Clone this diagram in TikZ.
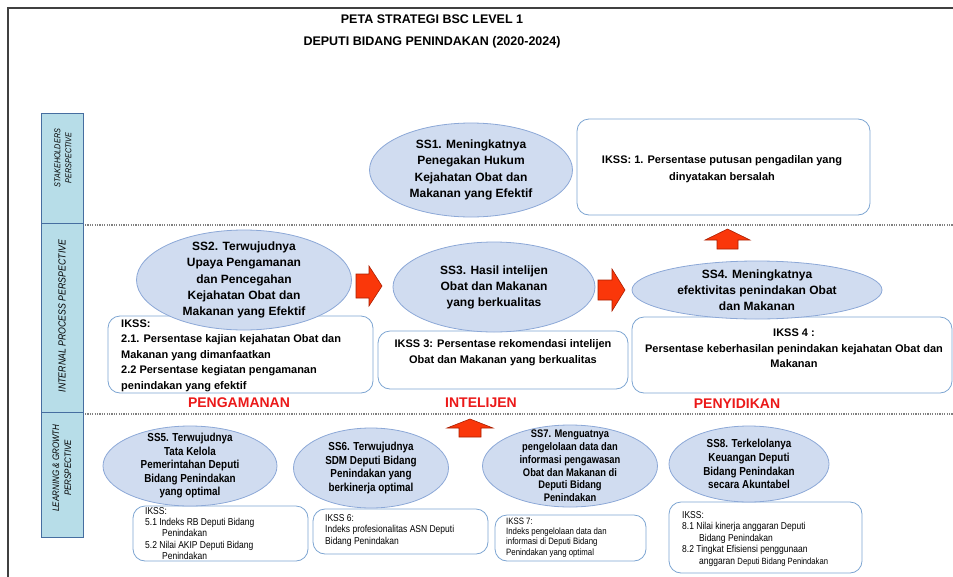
\documentclass[tikz,border=0pt]{standalone}
\usepackage{fontspec}
\setmainfont{Liberation Sans}
\newfontfamily\narrowsans[FakeStretch=0.85]{Liberation Sans}
\usetikzlibrary{shapes.geometric}
\definecolor{goalfill}{RGB}{208,220,240}
\definecolor{goalline}{RGB}{140,168,215}
\definecolor{boxline}{RGB}{125,165,210}
\definecolor{perspfill}{RGB}{183,221,232}
\definecolor{perspline}{RGB}{70,110,160}
\definecolor{arrfill}{RGB}{250,55,10}
\definecolor{arrline}{RGB}{170,30,0}
\definecolor{redtext}{RGB}{235,25,25}
\tikzset{
  goal/.style={ellipse, draw=goalline, fill=goalfill, line width=0.8pt, inner sep=0pt},
  ikss/.style={rectangle, rounded corners=12pt, draw=boxline, fill=white, line width=0.8pt, inner sep=0pt},
  persp/.style={rectangle, draw=perspline, fill=perspfill, line width=1pt, inner sep=0pt, minimum width=42},
  persptext/.style={rotate=90, align=center, inner sep=0pt},
  bigtext/.style={align=center, inner sep=0pt, font=\fontsize{12}{16.3}\selectfont\bfseries},
  iksstext/.style={inner sep=0pt, font=\fontsize{11}{15.5}\selectfont\bfseries},
  smalltext/.style={align=center, inner sep=0pt, font=\narrowsans\fontsize{11.6}{13.8}\selectfont\bfseries},
  tinytext/.style={align=left, anchor=west, inner sep=0pt, font=\narrowsans\fontsize{10}{11.4}\selectfont},
  areatext/.style={inner sep=0pt, text=redtext, font=\fontsize{14}{16}\selectfont\bfseries},
  blockarr/.style={fill=arrfill, draw=arrline, line width=0.6pt},
  sep/.style={draw=black!50, line width=2pt, dash pattern=on 1.2pt off 1.2pt}
}
\begin{document}
\begin{tikzpicture}[x=1pt, y=-1pt]
\useasboundingbox (0,0) rectangle (953,576);
\draw[line width=1.5pt, black!75] (8,590) -- (8,8) -- (960,8);
\node[align=center, inner sep=0pt, font=\fontsize{12.5}{22}\selectfont\bfseries] (title) at (432,31) {PETA STRATEGI BSC LEVEL 1\\DEPUTI BIDANG PENINDAKAN (2020-2024)};

\node[persp, minimum height=110] (sp) at (62,168) {};
\node[persp, minimum height=189] (ip) at (62,317.5) {};
\node[persp, minimum height=125] (lg) at (62,474.5) {};
\node[persptext, font=\narrowsans\fontsize{8.5}{11}\selectfont\itshape] (sptext) at (63,158) {STAKEHOLDERS\\PERSPECTIVE};
\node[persptext, font=\narrowsans\fontsize{10.3}{12}\selectfont\itshape] (iptext) at (62,316) {INTERNAL PROCESS PERSPECTIVE};
\node[persptext, font=\narrowsans\fontsize{9.4}{12}\selectfont\itshape] (lgtext) at (62,468) {LEARNING \& GROWTH\\PERSPECTIVE};
\draw[sep] (85,225) -- (960,225);
\draw[sep] (85,414) -- (960,414);

\node[goal, minimum width=203, minimum height=94] (ss1) at (471,170) {};
\node[bigtext] at (ss1) {SS1. Meningkatnya\\Penegakan Hukum\\Kejahatan Obat dan\\Makanan yang Efektif};
\node[ikss, minimum width=293, minimum height=96] (k1) at (723.5,167) {};
\node[iksstext, align=center, font=\fontsize{11}{17}\selectfont\bfseries] at (722,169) {IKSS: 1. Persentase putusan pengadilan yang\\dinyatakan bersalah};
\filldraw[blockarr, shift={(727.5,249)}, rotate=90] (0,-10.5) -- (9,-10.5) -- (9,-22.5) -- (20,0) -- (9,22.5) -- (9,10.5) -- (0,10.5) -- cycle;

\node[ikss, minimum width=265, minimum height=77] (k2) at (240.5,354.5) {};
\node[goal, minimum width=215, minimum height=100] (ss2) at (244,280) {};
\node[bigtext] at (ss2) {SS2. Terwujudnya\\Upaya Pengamanan\\dan Pencegahan\\Kejahatan Obat dan\\Makanan yang Efektif};
\node[iksstext, align=left, anchor=west] at (121,355.5) {IKSS:\\2.1. Persentase kajian kejahatan Obat dan\\Makanan yang dimanfaatkan\\2.2 Persentase kegiatan pengamanan\\penindakan yang efektif};
\filldraw[blockarr, shift={(356,286)}] (0,-12) -- (13,-12) -- (13,-20) -- (26,0) -- (13,20) -- (13,12) -- (0,12) -- cycle;

\node[ikss, minimum width=250, minimum height=58] (k3) at (503,360) {};
\node[goal, minimum width=202, minimum height=90] (ss3) at (494,287) {};
\node[bigtext, font=\fontsize{12}{16}\selectfont\bfseries] at (ss3) {SS3. Hasil intelijen\\Obat dan Makanan\\yang berkualitas};
\node[iksstext, align=center, font=\fontsize{11}{16}\selectfont\bfseries] at (503,353) {IKSS 3: Persentase rekomendasi intelijen\\Obat dan Makanan yang berkualitas};
\filldraw[blockarr, shift={(598,290)}] (0,-10) -- (14,-10) -- (14,-21) -- (27,0) -- (14,21) -- (14,10) -- (0,10) -- cycle;

\node[ikss, minimum width=320, minimum height=76] (k4) at (792,355) {};
\node[goal, minimum width=250, minimum height=58] (ss4) at (757,290) {};
\node[bigtext, font=\fontsize{12}{16}\selectfont\bfseries] at (ss4) {SS4. Meningkatnya\\efektivitas penindakan Obat\\dan Makanan};
\node[iksstext, align=center] at (794,348.5) {IKSS 4 :\\Persentase keberhasilan penindakan kejahatan Obat dan\\Makanan};

\node[areatext] (aman) at (239,403) {PENGAMANAN};
\node[areatext] (intel) at (481,403) {INTELIJEN};
\node[areatext] (sidik) at (737,404) {PENYIDIKAN};
\filldraw[blockarr, shift={(470,437)}, rotate=90] (0,-11) -- (9,-11) -- (9,-23) -- (18,0) -- (9,23) -- (9,11) -- (0,11) -- cycle;

\node[ikss, minimum width=175, minimum height=55] (k5) at (220.5,533.5) {};
\node[goal, minimum width=174, minimum height=80] (ss5) at (190,466) {};
\node[smalltext, font=\narrowsans\fontsize{11.6}{13.5}\selectfont\bfseries] at (ss5) {SS5. Terwujudnya\\Tata Kelola\\Pemerintahan Deputi\\Bidang Penindakan\\yang optimal};
\node[tinytext] at (145,533.5) {IKSS:\\5.1 Indeks RB Deputi Bidang\\\hspace*{17pt}Penindakan\\5.2 Nilai AKIP Deputi Bidang\\\hspace*{17pt}Penindakan};

\node[ikss, minimum width=175, minimum height=45] (k6) at (400.5,531.5) {};
\node[goal, minimum width=155, minimum height=80] (ss6) at (371,468) {};
\node[smalltext] at (ss6) {SS6. Terwujudnya\\SDM Deputi Bidang\\Penindakan yang\\berkinerja optimal};
\node[tinytext] at (325,530.5) {IKSS 6:\\Indeks profesionalitas ASN Deputi\\Bidang Penindakan};

\node[ikss, minimum width=151, minimum height=46] (k7) at (570.5,538) {};
\node[goal, minimum width=175, minimum height=82] (ss7) at (570,466) {};
\node[smalltext, font=\narrowsans\fontsize{11}{12.8}\selectfont\bfseries] at (ss7) {SS7. Menguatnya\\pengelolaan data dan\\informasi pengawasan\\Obat dan Makanan di\\Deputi Bidang\\Penindakan};
\node[tinytext, font=\narrowsans\fontsize{9.2}{10.3}\selectfont] at (506,537.5) {IKSS 7:\\Indeks pengelolaan data dan\\informasi di Deputi Bidang\\Penindakan yang optimal};

\node[ikss, minimum width=193, minimum height=71] (k8) at (765.5,537.5) {};
\node[goal, minimum width=160, minimum height=76] (ss8) at (749,464) {};
\node[smalltext] at (ss8) {SS8. Terkelolanya\\Keuangan Deputi\\Bidang Penindakan\\secara Akuntabel};
\node[tinytext, font=\narrowsans\fontsize{10}{11.5}\selectfont] at (682,539) {IKSS:\\8.1 Nilai kinerja anggaran Deputi\\\hspace*{17pt}Bidang Penindakan\\8.2 Tingkat Efisiensi penggunaan\\\hspace*{17pt}anggaran {\fontsize{9}{11.5}\selectfont Deputi Bidang Penindakan}};
\end{tikzpicture}
\end{document}
